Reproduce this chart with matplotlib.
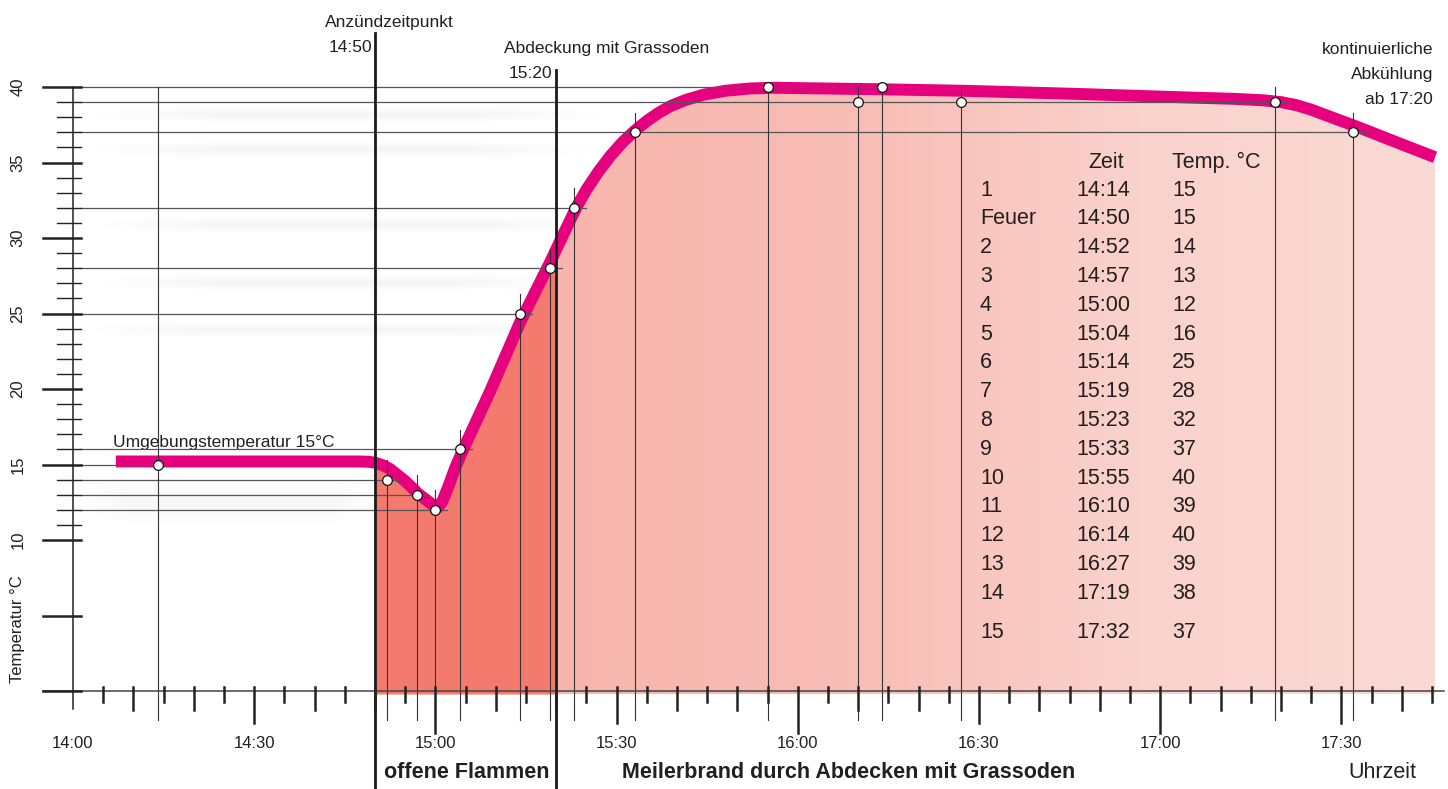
#!/usr/bin/env python3
"""Temperaturverlauf Meilerbrand -- Nachbau des Diagramms."""

import numpy as np
import matplotlib
matplotlib.use("Agg")
import matplotlib.pyplot as plt
from matplotlib.colors import LinearSegmentedColormap

# ── Daten ─────────────────────────────────────────────────────────────────────
# Messpunkte (Uhrzeit, Temperatur wie im Diagramm eingezeichnet)
POINT_TIMES = ["14:14", "14:52", "14:57", "15:00", "15:04", "15:14", "15:19",
               "15:23", "15:33", "15:55", "16:10", "16:14", "16:27", "17:19",
               "17:32"]
POINT_TEMPS = [15, 14, 13, 12, 16, 25, 28, 32, 37, 40, 39, 40, 39, 39, 37]

# Verlaufskurve (Minuten nach 14:00, °C)
CURVE_MIN = [7.1, 47.5, 49.0, 50.0, 51.3, 52.5, 55.0, 57.2, 59.5, 60.4, 61.2,
             62.2, 63.3, 64.6, 69.0, 74.0, 79.0, 80.0, 83.3, 85.0, 87.0, 89.0,
             91.0, 93.0, 95.0, 97.0, 99.0, 101.5, 104.5, 108.0, 112.0, 116.0,
             133.6, 147.4, 165.6, 185.0, 192.0, 197.0, 200.0, 202.5, 205.0,
             208.0, 212.7, 219.7, 225.5]
CURVE_TEMP = [15.2, 15.2, 15.18, 15.12, 14.95, 14.7, 13.9, 13.05, 12.35,
              12.15, 12.6, 13.6, 14.8, 16.0, 19.8, 24.4, 28.4, 29.25, 32.0,
              33.2, 34.4, 35.45, 36.35, 37.1, 37.75, 38.3, 38.75, 39.15, 39.5,
              39.75, 39.9, 39.95, 39.85, 39.75, 39.55, 39.3, 39.22, 39.12,
              39.0, 38.8, 38.5, 38.05, 37.35, 36.25, 35.35]

# Tabelle (Text wie im Original)
TABLE_LABELS = ["1", "Feuer", "2", "3", "4", "5", "6", "7", "8", "9", "10",
                "11", "12", "13", "14", "15"]
TABLE_TIMES = ["14:14", "14:50", "14:52", "14:57", "15:00", "15:04", "15:14",
               "15:19", "15:23", "15:33", "15:55", "16:10", "16:14", "16:27",
               "17:19", "17:32"]
TABLE_TEMPS = ["15", "15", "14", "13", "12", "16", "25", "28", "32", "37",
               "40", "39", "40", "39", "38", "37"]

IGNITION = "14:50"
COVERING = "15:20"
X_TICK_LABELS = ["14:00", "14:30", "15:00", "15:30", "16:00", "16:30",
                 "17:00", "17:30"]
Y_TICK_LABELS = [10, 15, 20, 25, 30, 35, 40]

# ── Stil ──────────────────────────────────────────────────────────────────────
MAGENTA = "#e6007e"
DARK_FILL = "#f47a6e"
TXT = "#231f20"
LINE = "#555555"
FONT = "Liberation Sans"

# Pixel-Geometrie des Originals
X0_PX, PX_PER_MIN = 73, 6.04
Y0_PX, PX_PER_DEG = 691, 15.1


def to_min(hhmm: str) -> float:
    h, m = hhmm.split(":")
    return (int(h) - 14) * 60 + int(m)


def px2x(px):
    return (px - X0_PX) / PX_PER_MIN


def px2y(py):
    return (Y0_PX - py) / PX_PER_DEG


def soft_band(ax, x0, x1, yc, h, peak=0.06, fade=0.25):
    """Weicher grauer Schatten (Deko)."""
    ny, nx = 40, 200
    yy = np.linspace(-1, 1, ny)
    vprof = np.exp(-(yy / 0.45) ** 2)
    xx = np.linspace(0, 1, nx)
    hprof = np.clip(np.minimum(xx, 1 - xx) / fade, 0, 1)
    img = np.zeros((ny, nx, 4))
    img[..., :3] = 0.35
    img[..., 3] = peak * np.outer(vprof, hprof)
    ax.imshow(img, extent=[x0, x1, yc - h, yc + h], aspect="auto",
              interpolation="bilinear", zorder=0.5, origin="lower")


plt.rcParams["font.family"] = [FONT, "DejaVu Sans"]

fig = plt.figure(figsize=(14.48, 7.89), dpi=100)
ax = fig.add_axes([0, 0, 1, 1])
ax.axis("off")
XLIM = (px2x(0), px2x(1448))
YLIM = (px2y(789), px2y(0))

px_min = np.array([to_min(t) for t in POINT_TIMES], dtype=float)
pt_temp = np.array(POINT_TEMPS, dtype=float)
cx = np.array(CURVE_MIN)
cy = np.array(CURVE_TEMP)
t_ign = to_min(IGNITION)
t_cov = to_min(COVERING)

# ── Schatten ──────────────────────────────────────────────────────────────────
for yc_px, x0_px, x1_px in [(115, 85, 610), (150, 85, 600), (225, 90, 610),
                            (283, 90, 580), (330, 85, 570)]:
    soft_band(ax, px2x(x0_px), px2x(x1_px), px2y(yc_px), 0.8)
soft_band(ax, px2x(80), px2x(380), px2y(500), 2.3, peak=0.05, fade=0.15)

# ── Flächen unter der Kurve ──────────────────────────────────────────────────
base = -0.2
ax.fill_between(cx, cy, base, where=(cx >= t_ign) & (cx <= t_cov),
                color=DARK_FILL, lw=0, zorder=1)
poly = ax.fill_between(cx, cy, base, where=cx >= t_cov,
                       color="none", lw=0, zorder=1)
grad = LinearSegmentedColormap.from_list(
    "pink", ["#f7b5ad", "#f8bdb5", "#fad2cc", "#fbd9d4"])
gimg = ax.imshow(np.linspace(0, 1, 256)[None, :], cmap=grad, aspect="auto",
                 extent=[t_cov, cx.max(), base, 41], zorder=1,
                 interpolation="bilinear")
gimg.set_clip_path(poly.get_paths()[0], transform=ax.transData)

# ── Kurve ─────────────────────────────────────────────────────────────────────
ax.plot(cx, cy, color=MAGENTA, lw=8.6, solid_capstyle="butt",
        solid_joinstyle="round", zorder=3)

# ── Hilfslinien zu den Messpunkten ────────────────────────────────────────────
for temp in np.unique(pt_temp):
    right = px_min[pt_temp == temp].max() + 2
    ax.plot([px2x(81), right], [temp, temp], color=LINE, lw=0.9, zorder=4)
for i, (m, t) in enumerate(zip(px_min, pt_temp)):
    top = 40 if i == 0 else min(t + 1.3, 40)
    ax.plot([m, m], [px2y(720), top], color="#333333", lw=0.8, zorder=4)

# dicke Markierungen Anzünden / Abdecken
ax.plot([t_ign, t_ign], [YLIM[0], px2y(33)], color="#1a1a1a", lw=2.0, zorder=4)
ax.plot([t_cov, t_cov], [YLIM[0], px2y(70)], color="#1a1a1a", lw=2.0, zorder=4)

ax.plot(px_min, pt_temp, "o", ms=7, mfc="white", mec="#111111", mew=0.9,
        zorder=6)

# ── Achsen ────────────────────────────────────────────────────────────────────
ax.plot([0, 0], [px2y(709), 40], color="#222222", lw=1.1, zorder=4)
ax.plot([px2x(43), px2x(1444)], [0, 0], color="#444444", lw=1.1, zorder=4)

for v in range(0, 41, 5):
    ax.plot([px2x(43), px2x(81)], [v, v], color="#222222", lw=1.8, zorder=4)
for v in range(11, 40):
    if v % 5:
        ax.plot([px2x(57), px2x(81)], [v, v], color="#222222", lw=1.0,
                zorder=4)
for v in Y_TICK_LABELS:
    ax.text(px2x(18), v, str(v), rotation=90, ha="center", va="center",
            fontsize=12, color=TXT)

for m in range(5, 226, 5):
    if m % 60 == 0:
        drop = 42
    elif m % 30 == 0:
        drop = 32
    elif m % 10 == 0:
        drop = 19
    else:
        drop = 11
    ax.plot([m, m], [px2y(Y0_PX - 4), px2y(Y0_PX + drop)], color="#222222",
            lw=1.8, zorder=4)
for lab in X_TICK_LABELS:
    ax.text(to_min(lab), px2y(743), lab, ha="center", va="center",
            fontsize=12, color=TXT)

ax.text(px2x(18), px2y(629), "Temperatur °C", rotation=90, ha="center",
        va="center", fontsize=12, color=TXT)

# ── Beschriftungen ───────────────────────────────────────────────────────────
ax.text(px2x(389), px2y(22), "Anzündzeitpunkt", ha="center", va="center",
        fontsize=12.5, color=TXT)
ax.text(px2x(372), px2y(47), IGNITION, ha="right", va="center",
        fontsize=12.5, color=TXT)
ax.text(px2x(607), px2y(48), "Abdeckung mit Grassoden", ha="center",
        va="center", fontsize=12.5, color=TXT)
ax.text(px2x(552), px2y(74), COVERING, ha="right", va="center",
        fontsize=12.5, color=TXT)
for k, line in enumerate(["kontinuierliche", "Abkühlung", "ab 17:20"]):
    ax.text(px2x(1433), px2y(50 + 25 * k), line, ha="right", va="center",
            fontsize=12.5, color=TXT)
ax.text(px2x(113), px2y(442), "Umgebungstemperatur 15°C", ha="left",
        va="center", fontsize=12.5, color=TXT)

ax.text(px2x(467), px2y(773), "offene Flammen", ha="center", va="center",
        fontsize=15.5, fontweight="bold", color=TXT)
ax.text(px2x(849), px2y(773), "Meilerbrand durch Abdecken mit Grassoden",
        ha="center", va="center", fontsize=15.5, fontweight="bold", color=TXT)
ax.text(px2x(1382), px2y(773), "Uhrzeit", ha="center", va="center",
        fontsize=15.5, color=TXT)

# ── Tabelle ───────────────────────────────────────────────────────────────────
col1, col2, col3 = px2x(980), px2x(1076), px2x(1172)
ax.text(px2x(1088), px2y(162), "Zeit", ha="left", va="center",
        fontsize=15.5, color=TXT)
ax.text(col3, px2y(162), "Temp. °C", ha="left", va="center",
        fontsize=15.5, color=TXT)
for i, (lab, tm, tp) in enumerate(zip(TABLE_LABELS, TABLE_TIMES, TABLE_TEMPS)):
    ypx = 190 + 28.8 * i + (10 if i == len(TABLE_LABELS) - 1 else 0)
    y = px2y(ypx)
    ax.text(col1, y, lab, ha="left", va="center", fontsize=15.5, color=TXT)
    ax.text(col2, y, tm, ha="left", va="center", fontsize=15.5, color=TXT)
    ax.text(col3, y, tp, ha="left", va="center", fontsize=15.5, color=TXT)

ax.set_xlim(*XLIM)
ax.set_ylim(*YLIM)
fig.savefig("out.png", dpi=100, facecolor="white")
